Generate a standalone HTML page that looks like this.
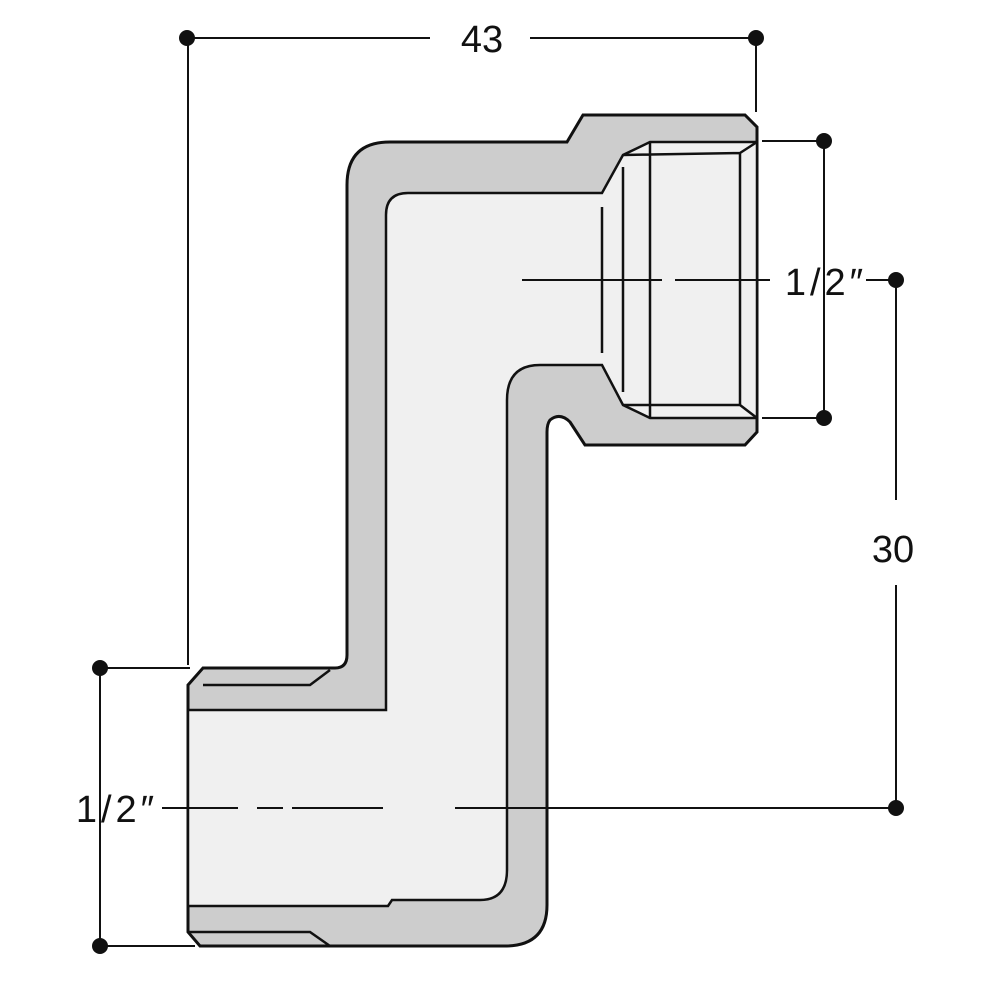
<!DOCTYPE html>
<html><head><style>html,body{margin:0;padding:0;background:#fff}svg{display:block}</style></head><body>
<svg width="1000" height="1000" viewBox="0 0 1000 1000" xmlns="http://www.w3.org/2000/svg">
<g stroke="#111" stroke-width="2.5" fill="none">
<path fill="#cdcdcd" stroke-width="3" d="M188,685 L203,668 L335,668 Q347,668 347,655 L347,185 Q347,142 390,142 L567,142 L583,115 L745,115 L757,127 L757,432 L745,445 L585,445 L570,422 Q560,412 550,420 Q547,424 547,432 L547,905 Q547,946 505,946 L200,946 L188,932 Z"/>
<path fill="#f0f0f0" d="M188,710 L386,710 L386,215 Q386,193 408,193 L602,193 L623,155 L650,142 L757,142 L757,418 L650,418 L623,405 L602,365 L540,365 Q507,365 507,400 L507,870 Q507,900 480,900 L392,900 L388,906 L188,906 Z"/>
<path d="M650,142 L650,418 M623,155 L740,153 L740,405 L623,405 M740,153 L757,142 M740,405 L757,418 M623,167 L623,392 M602,207 L602,353"/>
<path d="M188,932 L310,932 L330,946 M203,685 L310,685 L330,670"/>
<path stroke-width="2" d="M187,38 L430,38 M530,38 L756,38 M188,38 L188,665 M756,38 L756,112 M762,141 L824,141 M762,418 L824,418 M824,141 L824,418 M866,280 L896,280 M896,280 L896,500 M896,585 L896,808 M455,808 L896,808 M162,808 L238,808 M257,808 L283,808 M292,808 L383,808 M100,668 L190,668 M100,946 L195,946 M100,668 L100,946 M522,280 L662,280 M675,280 L770,280"/>
</g>
<g fill="#111">
<circle cx="187" cy="38" r="8"/><circle cx="756" cy="38" r="8"/>
<circle cx="824" cy="141" r="8"/><circle cx="824" cy="418" r="8"/>
<circle cx="896" cy="280" r="8"/><circle cx="896" cy="808" r="8"/>
<circle cx="100" cy="668" r="8"/><circle cx="100" cy="946" r="8"/>
</g>
<g font-family="Liberation Sans, sans-serif" font-size="38" fill="#111" text-anchor="middle">
<text x="482" y="52">43</text>
<text x="826" y="295" letter-spacing="4">1/2″</text>
<text x="117" y="822" letter-spacing="4">1/2″</text>
<text x="893" y="562">30</text>
</g>
</svg>
</body></html>
